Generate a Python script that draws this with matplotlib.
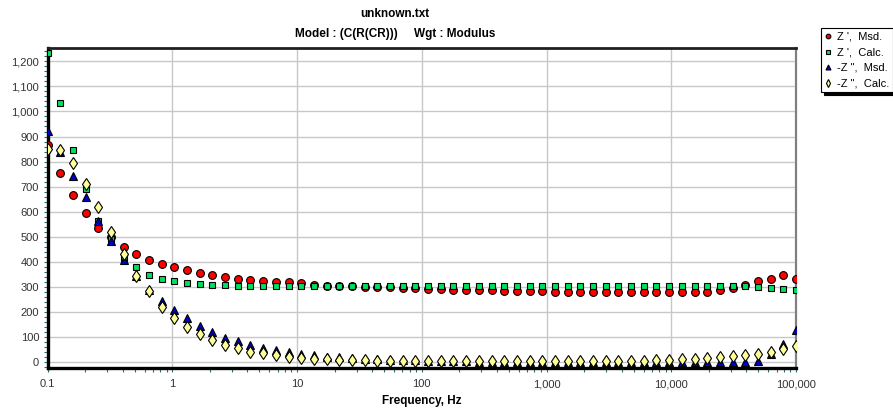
import matplotlib
matplotlib.use("Agg")
import matplotlib.pyplot as plt
from matplotlib.ticker import FixedLocator, MultipleLocator, FuncFormatter, LogLocator, NullFormatter

plt.rcParams['font.family'] = ['Liberation Sans', 'DejaVu Sans']

# data (60 frequencies, 0.1 Hz .. 100 kHz)
freq = [0.1, 0.1264, 0.1597, 0.2019, 0.2551, 0.3225, 0.4075, 0.5151, 0.6510, 0.8228,
        1.040, 1.314, 1.661, 2.099, 2.653, 3.353, 4.238, 5.356, 6.769, 8.555,
        10.81, 13.67, 17.27, 21.83, 27.59, 34.87, 44.07, 55.69, 70.39, 88.96,
        112.4, 142.1, 179.6, 227.0, 286.9, 362.6, 458.1, 579.0, 731.8, 924.9,
        1169, 1477, 1867, 2360, 2982, 3769, 4764, 6021, 7609, 9619,
        12155, 15362, 19415, 24537, 31010, 39192, 49530, 62600, 79112, 100000]

zre_msd = [865, 755, 667, 596, 536, 499, 460, 432, 409, 392,
           380, 367, 357, 348, 341, 332, 328, 323, 320, 319,
           316, 308, 305, 303, 302, 301, 300, 298, 297, 295,
           292, 291, 290, 289, 288, 287, 286, 286, 285, 284,
           282, 281, 281, 281, 281, 281, 281, 281, 281, 281,
           281, 281, 281, 287, 295, 307, 323, 333, 348, 330]

zre_calc = [1233, 1033, 848, 689, 562, 492, 416, 379, 347, 333,
            324, 315, 313, 308, 307, 304, 303, 303, 303, 303,
            303, 303, 303, 303, 303, 303, 303, 303, 303, 303,
            303, 303, 303, 303, 303, 303, 303, 303, 303, 303,
            303, 303, 303, 303, 303, 303, 303, 303, 303, 303,
            303, 303, 303, 303, 303, 302, 299, 297, 293, 289]

zim_msd = [924, 837, 744, 657, 562, 483, 407, 343, 287, 243,
           210, 175, 145, 120, 98, 83, 68, 58, 50, 40,
           33, 27, 22, 19, 16, 13, 12, 10, 8, 7,
           5, 4, 3, 3, 2, 2, 2, 2, 2, 2,
           2, 2, 2, 2, 2, 2, 2, 2, 2, 2,
           2, 2, 2, 2, 2, 2, 3, 33, 73, 130]

zim_calc = [849, 848, 795, 711, 617, 520, 432, 345, 283, 220,
            176, 141, 111, 87, 69, 56, 42, 36, 27, 21,
            16, 13, 11, 9, 8, 7, 6, 5, 5, 4,
            4, 4, 4, 4, 4, 4, 4, 4, 4, 4,
            4, 4, 4, 4, 4, 4, 4, 5, 7, 8,
            11, 13, 17, 20, 24, 28, 33, 41, 53, 63]

labels = ["Z ',  Msd.", "Z ',  Calc.", '-Z ",  Msd.', '-Z ",  Calc.']
x_ticks = [0.1, 1, 10, 100, 1000, 10000, 100000]
y_ticks = list(range(0, 1300, 100))

fig = plt.figure(figsize=(8.93, 4.13), dpi=100)
ax = fig.add_axes([47.5 / 893, 1 - 368 / 413, (796 - 47.5) / 893, (368 - 48) / 413])

ms = 5.6
ax.plot(freq, zre_msd, 'o', color='#ff0000', mec='black', mew=0.8, ms=ms, label=labels[0], zorder=3)
ax.plot(freq, zre_calc, 's', color='#00e060', mec='black', mew=0.8, ms=ms - 0.8, label=labels[1], zorder=4)
ax.plot(freq, zim_msd, '^', color='#0000cc', mec='black', mew=0.8, ms=ms + 0.4, label=labels[2], zorder=5)
ax.plot(freq, zim_calc, 'd', color='#ffff99', mec='black', mew=0.8, ms=ms + 0.6, label=labels[3], zorder=6)

ax.set_xscale('log')
ax.set_xlim(0.1, 100000)
ax.set_ylim(-23, 1253)

ax.xaxis.set_major_locator(FixedLocator(x_ticks))
ax.xaxis.set_major_formatter(FuncFormatter(lambda v, p: '0.1' if v < 1 else '{:,}'.format(int(round(v)))))
ax.xaxis.set_minor_locator(LogLocator(base=10, subs=range(2, 10), numticks=20))
ax.xaxis.set_minor_formatter(NullFormatter())
ax.yaxis.set_major_locator(FixedLocator(y_ticks))
ax.yaxis.set_major_formatter(FuncFormatter(lambda v, p: '{:,}'.format(int(v))))
ax.yaxis.set_minor_locator(MultipleLocator(20))

ax.grid(True, which='major', color='#c8c8c8', lw=1.0, zorder=0)
ax.set_axisbelow(True)

ax.tick_params(axis='both', which='both', direction='out', colors='#2f6f6f',
               labelcolor='#333333', labelsize=8, width=0.8)
ax.tick_params(axis='y', which='both', length=3, pad=3)
ax.tick_params(axis='x', which='both', length=3, pad=5)

for side in ['left', 'bottom']:
    ax.spines[side].set_linewidth(2.4)
    ax.spines[side].set_color('black')
ax.spines['top'].set_linewidth(2.0)
ax.spines['top'].set_color('#202020')
ax.spines['right'].set_linewidth(1.6)
ax.spines['right'].set_color('#808080')

ax.set_xlabel('Frequency, Hz', fontsize=8.5, fontweight='bold', labelpad=4)

fig.text(0.442, 1 - 14 / 413, 'unknown.txt', ha='center', va='center', fontsize=8.5, fontweight='bold')
fig.text(0.442, 1 - 34 / 413, 'Model : (C(R(CR)))     Wgt : Modulus', ha='center', va='center',
         fontsize=8.5, fontweight='bold')

leg = fig.legend(loc='upper left', bbox_to_anchor=(821 / 893, 1 - 28 / 413), fontsize=8,
                 markerscale=0.6, handlelength=0.6, handletextpad=0.5, labelspacing=0.5,
                 borderpad=0.35, borderaxespad=0, fancybox=False, framealpha=1,
                 edgecolor='black', shadow={'color': 'black', 'alpha': 1})
leg.get_frame().set_linewidth(0.8)

fig.savefig('out.png', dpi=100)
